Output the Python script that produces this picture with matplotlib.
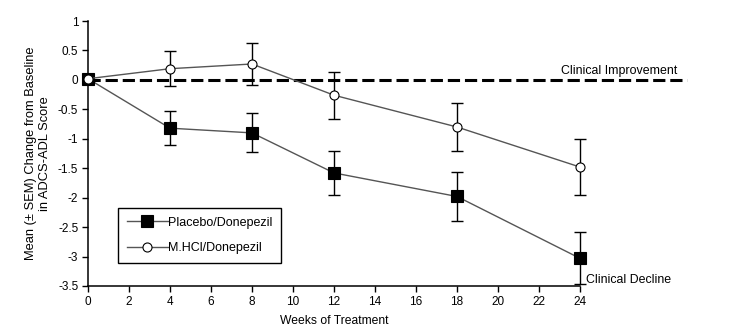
import numpy as np
import matplotlib
matplotlib.use('Agg')
import matplotlib.pyplot as plt

plt.rcParams['font.family'] = ['Liberation Sans', 'DejaVu Sans']

weeks = [0, 4, 8, 12, 18, 24]
placebo = [0.02, -0.82, -0.90, -1.58, -1.98, -3.03]
placebo_sem = [0.0, 0.29, 0.33, 0.38, 0.42, 0.44]
mhcl = [0.02, 0.19, 0.27, -0.26, -0.80, -1.48]
mhcl_sem = [0.0, 0.30, 0.35, 0.40, 0.40, 0.48]

fig = plt.figure(figsize=(7.33, 3.36), dpi=100)
ax = fig.add_axes([88/733, 1-286/336, 492/733, 265/336])

# reference line at zero, running past the last week
ax.plot([0, 29.2], [0, 0], color='black', lw=2.2, dashes=(4, 1.6), clip_on=False, zorder=1)

for y, e, mk, ms, fc, lab in [(placebo, placebo_sem, 's', 8, 'black', 'Placebo/Donepezil'),
                              (mhcl, mhcl_sem, 'o', 6.5, 'white', 'M.HCl/Donepezil')]:
    ax.errorbar(weeks, y, yerr=e, fmt='none', ecolor='black', elinewidth=1.0,
                capsize=4, capthick=1.0, zorder=2, clip_on=False)
    ax.plot(weeks, y, color='#555555', lw=1.0, marker=mk, markersize=ms,
            markerfacecolor=fc, markeredgecolor='black', markeredgewidth=0.8,
            label=lab, zorder=3, clip_on=False)

ax.set_xlim(0, 24)
ax.set_ylim(-3.5, 1)
ax.set_xticks(np.arange(0, 25, 2))
ax.set_yticks(np.arange(-3.5, 1.01, 0.5))
ax.set_yticklabels(['-3.5', '-3', '-2.5', '-2', '-1.5', '-1', '-0.5', '0', '0.5', '1'])
ax.tick_params(labelsize=8.5, direction='out', length=4, width=1, pad=3)
for s in ['top', 'right']:
    ax.spines[s].set_visible(False)
for s in ['left', 'bottom']:
    ax.spines[s].set_linewidth(1.1)

ax.set_xlabel('Weeks of Treatment', fontsize=8.7, labelpad=5)
ax.set_ylabel('Mean (\u00b1 SEM) Change from Baseline\nin ADCS-ADL Score', fontsize=9.3,
              labelpad=5, linespacing=1.2)

ax.text(28.75, 0.05, 'Clinical Improvement', fontsize=8.9, ha='right', va='bottom')
ax.text(24.3, -3.4, 'Clinical Decline', fontsize=8.9, ha='left', va='center')

leg = ax.legend(loc='upper left', bbox_to_anchor=(30/492, 1-(208-21)/265), borderaxespad=0,
                fontsize=9, fancybox=False, edgecolor='black', framealpha=1,
                handlelength=3.3, handletextpad=0.0, borderpad=0.7, labelspacing=1.1)
leg.get_frame().set_linewidth(1.0)

fig.savefig('out.png', dpi=100)
